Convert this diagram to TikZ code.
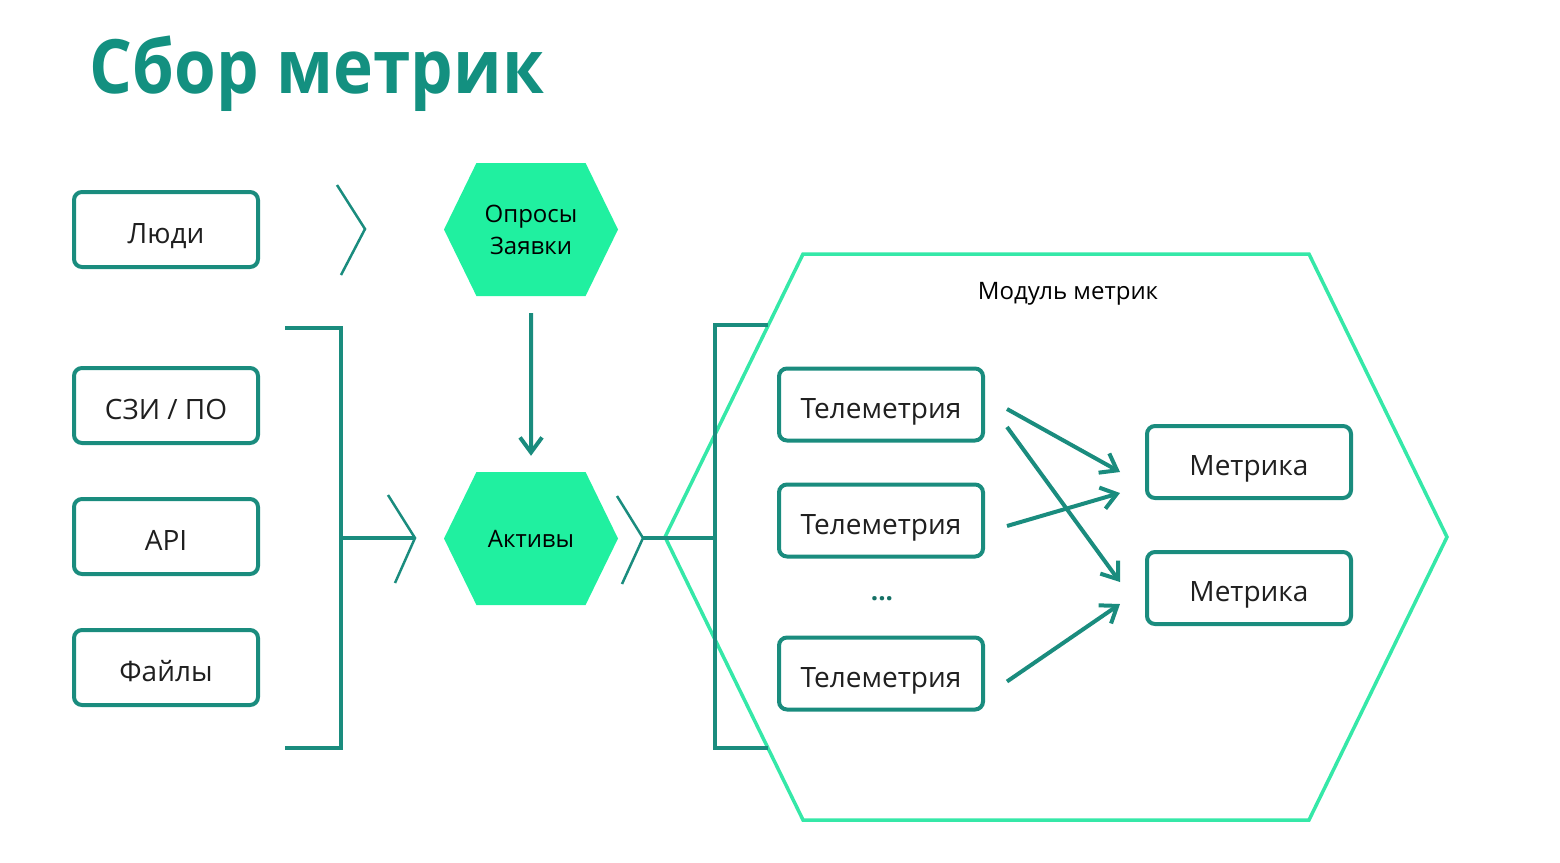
\documentclass[tikz,border=0pt]{standalone}
\usepackage{fontspec}
\setmainfont{Open Sans}
\newfontfamily\titlefont[FakeStretch=0.9]{Open Sans}
\usetikzlibrary{arrows.meta,positioning,calc,shapes.symbols}

\definecolor{tealline}{HTML}{1A8C7E}
\definecolor{mintfill}{HTML}{20F0A0}
\definecolor{mintline}{HTML}{35E8A8}
\definecolor{titlecol}{HTML}{139080}

\begin{document}
\begin{tikzpicture}[
  x=1pt, y=-1pt,
  font=\fontsize{28}{32}\selectfont,
  node distance=52pt,
  box/.style={draw=tealline, line width=4pt, rounded corners=8pt, inner sep=0pt,
              minimum width=184pt, minimum height=75pt, text=black!88,
              text height=27pt, text depth=0pt},
  tbox/.style={box, minimum width=204pt, minimum height=72pt},
  hexa/.style={signal, signal to=east and west, signal pointer angle=128,
               fill=mintfill, inner sep=0pt, align=center,
               minimum width=174pt, minimum height=133pt,
               font=\fontsize{24}{32}\selectfont},
  arr/.style={-{Straight Barb[length=15pt,width=22pt]}, draw=tealline, line width=4pt},
  chev/.style={draw=tealline, line width=2.5pt},
  brk/.style={draw=tealline, line width=4pt}
]
\useasboundingbox (0,0) rectangle (1560,862);

% Title
\node[anchor=base west, text=titlecol, font=\fontsize{75}{80}\titlefont\bfseries]
  (title) at (86,93) {Сбор метрик};

% Sources
\node[box] (lyudi) at (166,229.5) {Люди};
\node[box, below=97pt of lyudi] (szi) {СЗИ / ПО};
\node[box, below=of szi] (api) {API};
\node[box, below=of api] (faily) {Файлы};

% Hexagons
\node[hexa] (oprosy) at (531,229.5) {Опросы\\Заявки};
\node[hexa] (aktivy) at (531,538.5) {Активы};
\draw[arr, shorten <=17pt, shorten >=16pt] (oprosy) -- (aktivy);

% Module
\node[signal, signal to=east and west, signal pointer angle=128, draw=mintline,
      line width=3.5pt, minimum width=782pt, minimum height=566pt] (modul) at (1056,537) {};
\node[font=\fontsize{24}{28}\selectfont] (modname) at (1068,294) {Модуль метрик};

\node[tbox] (tel1) at (881,404.5) {Телеметрия};
\node[tbox, below=40pt of tel1] (tel2) {Телеметрия};
\node[tbox, below=77pt of tel2] (tel3) {Телеметрия};
\node[text=tealline!80!black, font=\fontsize{26}{28}\selectfont\bfseries] (dots) at (882,599) {...};

\node[tbox] (m1) at (1249,462) {Метрика};
\node[tbox, below=50pt of m1] (m2) {Метрика};

\draw[arr] ($(tel1.east)+(22,4.5)$) -- ($(m1.west)+(-25,10)$);
\draw[arr] ($(tel1.east)+(22,22.5)$) -- ($(m2.west)+(-25,-6)$);
\draw[arr] ($(tel2.east)+(22,5.5)$) -- ($(m1.west)+(-25,31)$);
\draw[arr] ($(tel3.east)+(22,8)$) -- ($(m2.west)+(-25,16)$);

% Brackets and chevrons
\draw[chev] (337,185) -- (365,229) -- (341,275);
\draw[brk] (285,328) -| (341,748) -- (285,748);
\coordinate (jointA) at (341,538);
\coordinate (tipA) at (415,538);
\draw[brk] (jointA) -- (tipA);
\draw[chev] (388,495) -- (tipA) -- (395,583);

\coordinate (tipB) at (643,538);
\coordinate (jointB) at (715,538);
\draw[chev] (617,496) -- (tipB) -- (622,584);
\draw[brk] (tipB) -- (jointB);
\draw[brk] (768,325) -| (715,748) -- (768,748);
\end{tikzpicture}
\end{document}
